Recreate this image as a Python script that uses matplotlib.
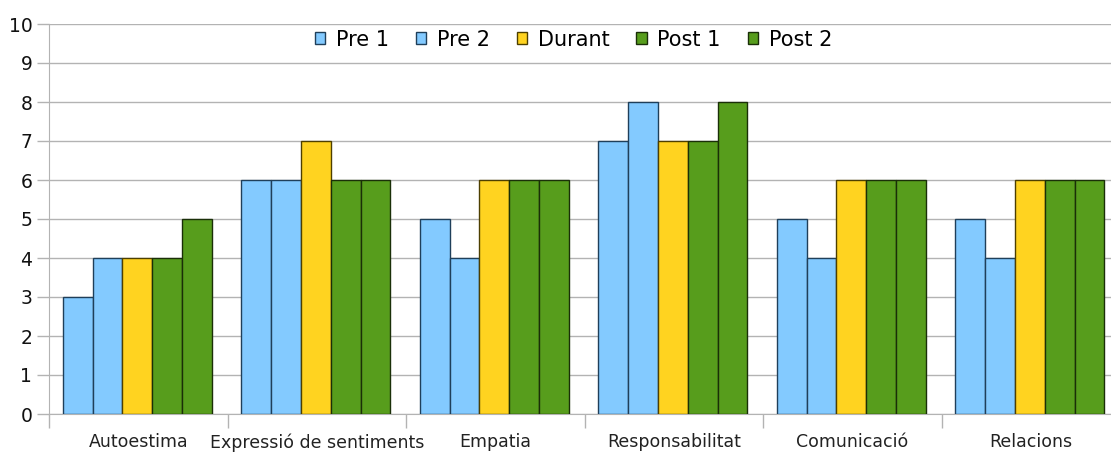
import matplotlib.pyplot as plt
import numpy as np

categories = ["Autoestima", "Expressió de sentiments", "Empatia",
              "Responsabilitat", "Comunicació", "Relacions"]
series = ["Pre 1", "Pre 2", "Durant", "Post 1", "Post 2"]
pre1 = [3, 6, 5, 7, 5, 5]
pre2 = [4, 6, 4, 8, 4, 4]
durant = [4, 7, 6, 7, 6, 6]
post1 = [4, 6, 6, 7, 6, 6]
post2 = [5, 6, 6, 8, 6, 6]
values = [pre1, pre2, durant, post1, post2]

blue, yellow, green = "#83CAFF", "#FFD320", "#579D1C"
colors = [blue, blue, yellow, green, green]
edges = ["#1f3f5a", "#1f3f5a", "#4d3f00", "#1a2f08", "#1a2f08"]
grey = "#b3b3b3"

fig = plt.figure(figsize=(11.11, 4.54), dpi=100)
ax = fig.add_axes([49/1111, 40/454, 1071/1111, 390/454])

n = len(categories)
x = np.arange(n) + 0.5
w = 0.167
for k, (name, vals) in enumerate(zip(series, values)):
    ax.bar(x + (k - 2) * w - 0.005, vals, width=w, color=colors[k],
           edgecolor=edges[k], linewidth=1.0, label=name, zorder=3)

ax.set_xlim(0, n)
ax.set_ylim(0, 10)
ax.set_yticks(range(0, 11))
ax.yaxis.grid(True, color=grey, linewidth=1.0, zorder=0)

# category boundaries get the tick marks, centres get the labels
ax.set_xticks(range(0, n + 1))
ax.set_xticklabels([])
ax.set_xticks(x, minor=True)
ax.set_xticklabels(categories, minor=True, fontsize=12.5, color="#222222")
ax.tick_params(axis="x", which="major", length=10, color=grey, width=1)
ax.tick_params(axis="x", which="minor", length=0, pad=14)
ax.tick_params(axis="y", length=9, color=grey, width=1, labelsize=13.5,
               pad=3, labelcolor="#111111")

for s in ["top", "right"]:
    ax.spines[s].set_visible(False)
for s in ["left", "bottom"]:
    ax.spines[s].set_color(grey)

ax.legend(loc="center", bbox_to_anchor=(0.4897, 0.96), ncol=5,
          frameon=False, fontsize=15, handlelength=0.5, handleheight=0.5,
          handletextpad=0.5, columnspacing=1.3, borderaxespad=0,
          borderpad=0)

plt.savefig("out.png", dpi=100)
